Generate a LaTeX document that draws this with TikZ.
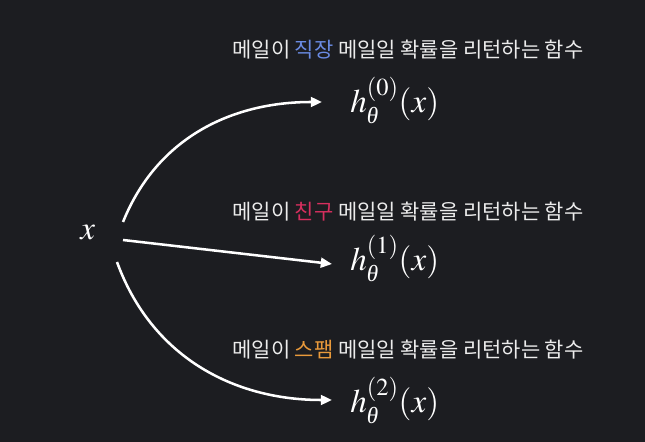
\documentclass[tikz,border=0pt]{standalone}
\usepackage{mathptmx}
\usepackage{fontspec}
\newfontfamily\krfont{Noto Sans CJK KR}
\newfontfamily\grkfont{Liberation Serif}
\newcommand{\thetait}{\mbox{\grkfont\itshape\fontsize{16.5}{18}\selectfont θ}}
\usetikzlibrary{arrows.meta}
\definecolor{bgdark}{HTML}{1C1D21}
\definecolor{txtwhite}{HTML}{ECECEC}
\definecolor{workblue}{HTML}{6A8BE3}
\definecolor{friendred}{HTML}{D62F5E}
\definecolor{spamorange}{HTML}{E99A3B}
\tikzset{
    desc/.style={text=txtwhite, font=\krfont\fontsize{14.9}{17}\selectfont, inner sep=0pt},
    func/.style={text=white, font=\fontsize{23.5}{28}\selectfont, anchor=base west, inner sep=0pt},
    flow/.style={draw=white, line width=1.8pt, -{Triangle[length=8pt,width=7pt]}}
}

\begin{document}
\begin{tikzpicture}
    \fill[bgdark] (0,0) rectangle (16.125,11.05);
    \useasboundingbox (0,0) rectangle (16.125,11.05);
    \node[func] (xin) at (2.0,5.05) {$x$};
    \node[func] (h0) at (8.75,8.225) {$h_{\thetait}^{(0)}(x)$};
    \node[func] (h1) at (8.75,4.275) {$h_{\thetait}^{(1)}(x)$};
    \node[func] (h2) at (8.75,0.725) {$h_{\thetait}^{(2)}(x)$};
    \node[desc] (d0) at (10.2,9.8) {메일이 \textcolor{workblue}{직장} 메일일 확률을 리턴하는 함수};
    \node[desc] (d1) at (10.2,5.75) {메일이 \textcolor{friendred}{친구} 메일일 확률을 리턴하는 함수};
    \node[desc] (d2) at (10.2,2.3) {메일이 \textcolor{spamorange}{스팸} 메일일 확률을 리턴하는 함수};
    % start and end points of the arrows
    \coordinate (s0) at (3.075,5.5);
    \coordinate (s1) at (3.075,5.05);
    \coordinate (s2) at (2.925,4.5);
    \coordinate (e0) at (8.05,8.5);
    \coordinate (e1) at (8.3,4.45);
    \coordinate (e2) at (8.3,1.05);
    \draw[flow] (s0) to[out=68,in=180] (e0);
    \draw[flow] (s1) -- (e1);
    \draw[flow] (s2) to[out=-70,in=180] (e2);
\end{tikzpicture}
\end{document}
